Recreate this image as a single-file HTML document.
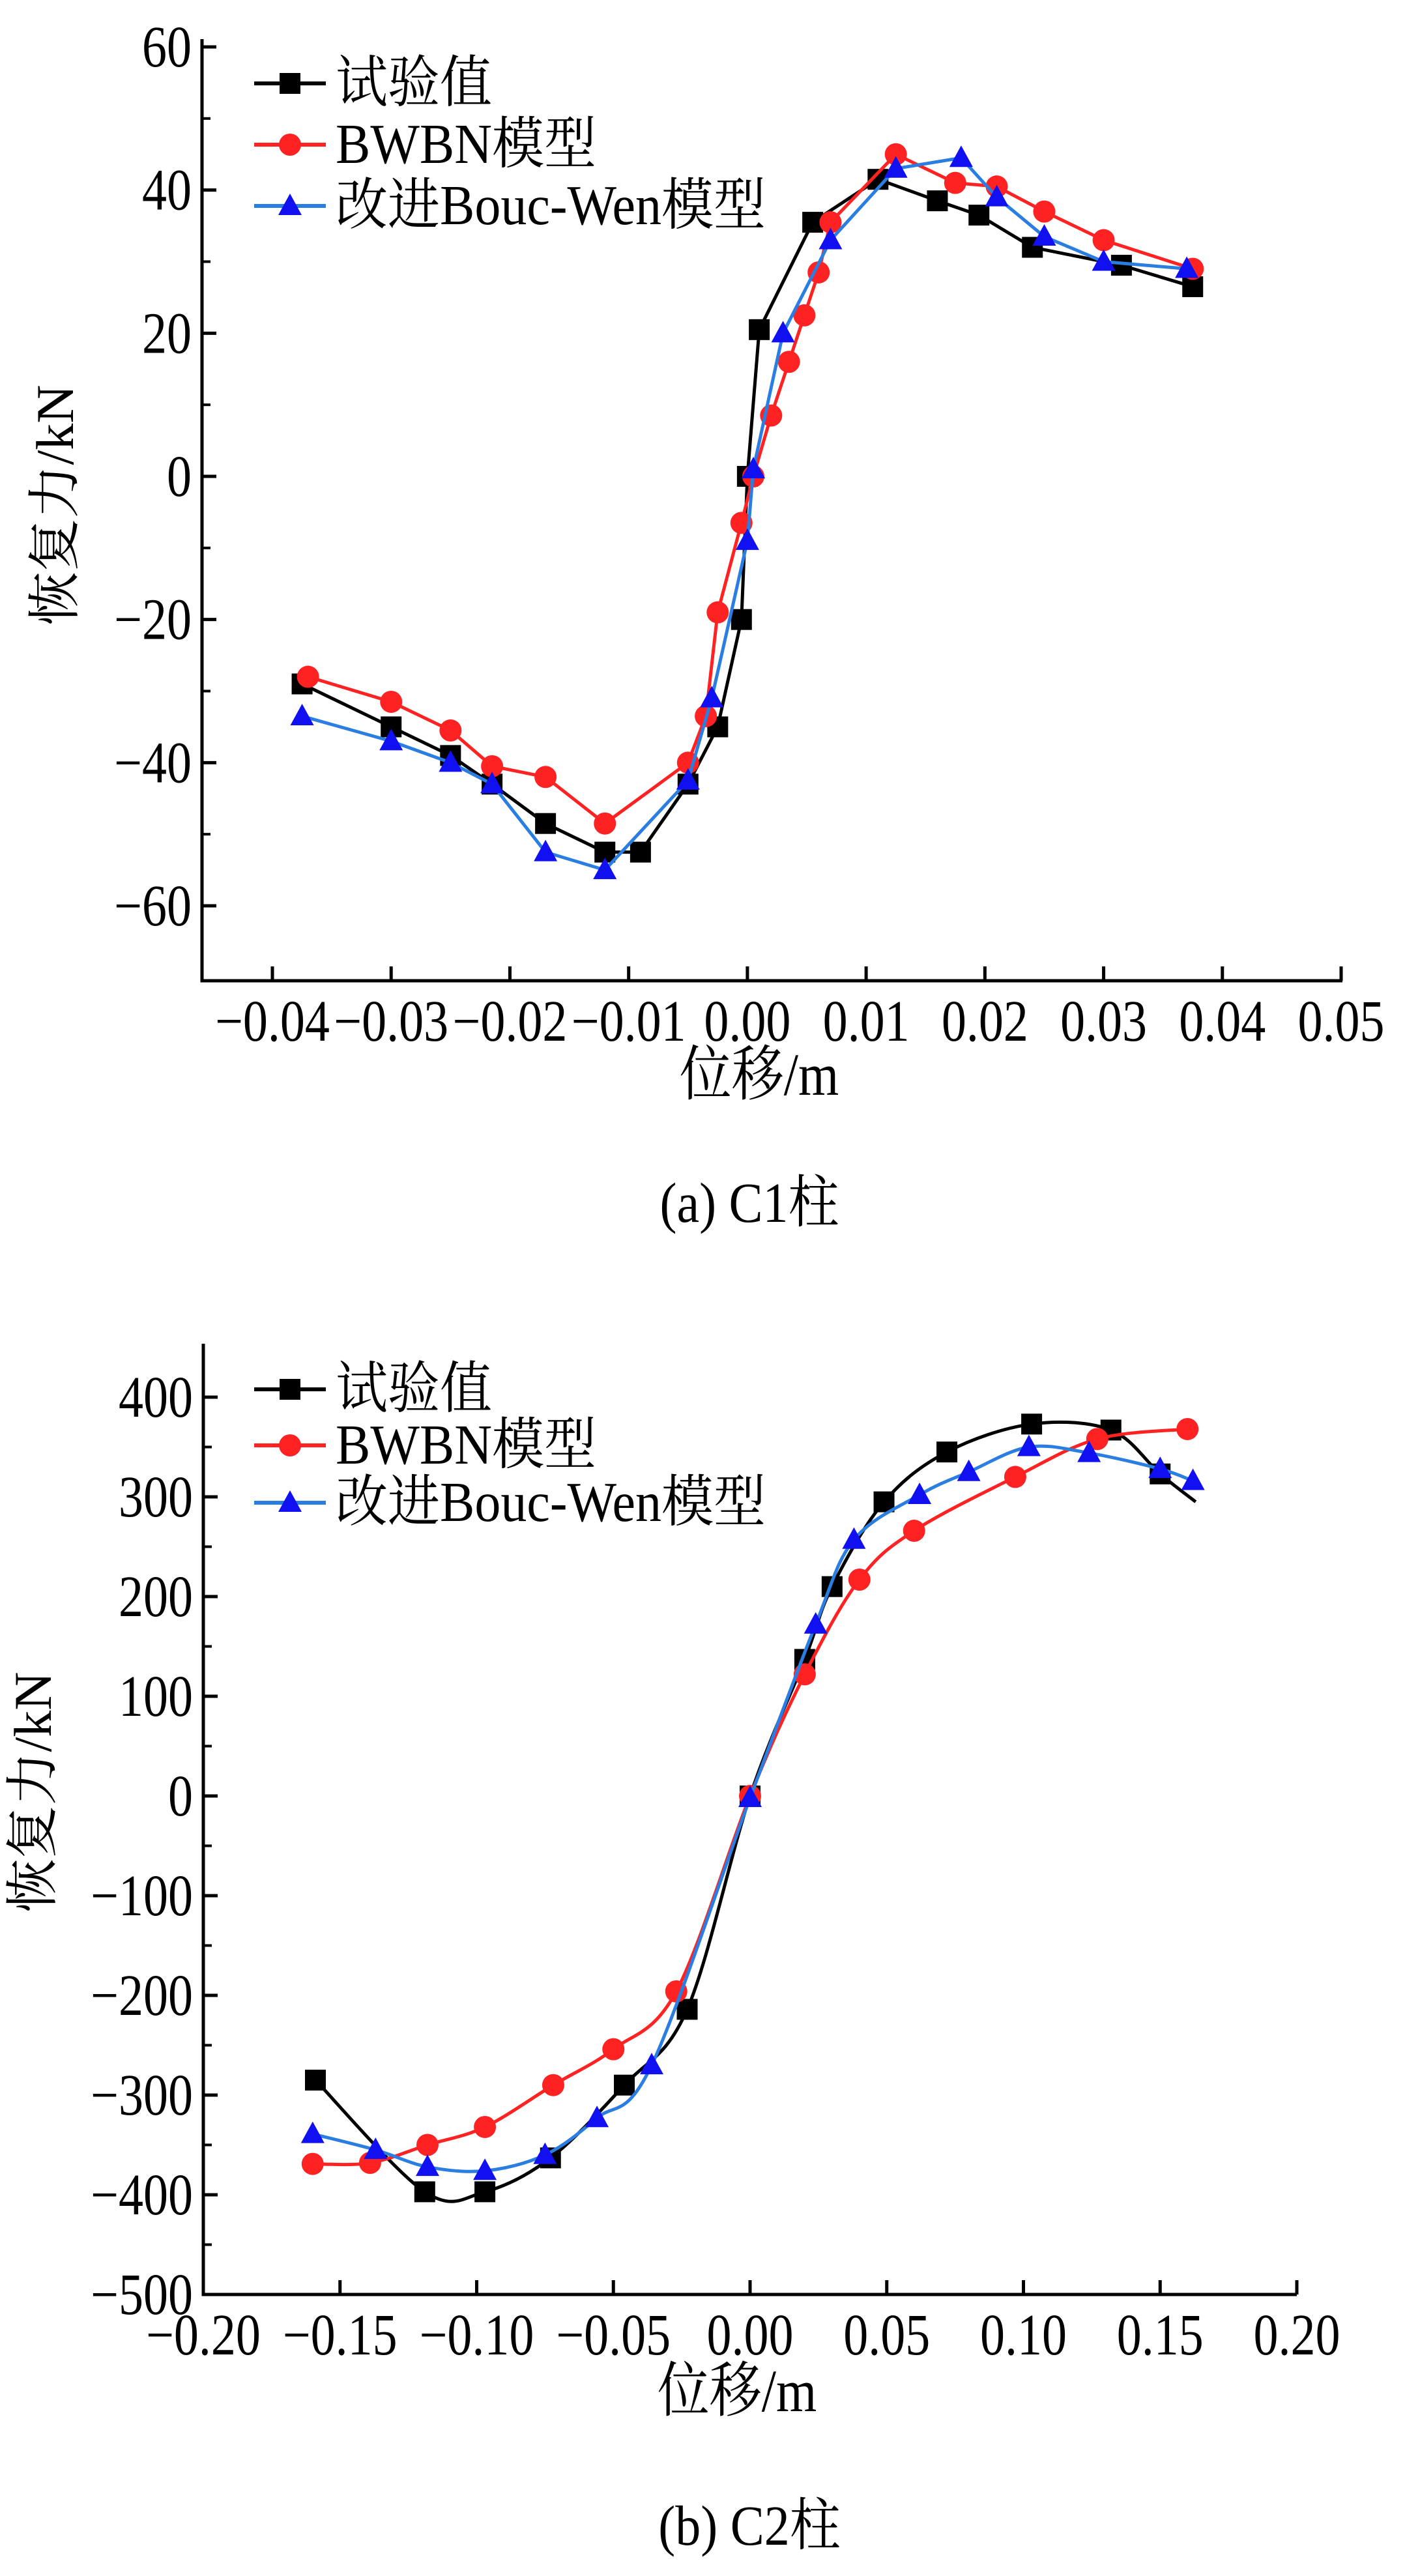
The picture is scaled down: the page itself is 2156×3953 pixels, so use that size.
<!DOCTYPE html>
<html><head><meta charset="utf-8"><style>
html,body{margin:0;padding:0;background:#fff;}
svg{display:block;}
text{font-family:"Liberation Serif","Noto Serif CJK SC",serif;fill:#000;}
</style></head><body>
<svg id="fig" width="2156" height="3953" viewBox="0 0 2156 3953" xmlns="http://www.w3.org/2000/svg"></svg>
<script>
// ---- Chart (a) C1 data ----
const c1ExpX = [-0.0375,-0.030,-0.025,-0.0215,-0.017,-0.012,-0.009,-0.005,-0.0025,-0.0005,0,0.001,0.0055,0.011,0.016,0.0195,0.024,0.0315,0.0375];
const c1ExpY = [-29,-35,-39,-43,-48.5,-52.5,-52.5,-43,-35,-20,0,20.5,35.5,41.5,38.5,36.5,32,29.5,26.5];
const c1BwX = [-0.037,-0.030,-0.025,-0.0215,-0.017,-0.012,-0.005,-0.0035,-0.0025,-0.0005,0.0005,0.002,0.0035,0.0048,0.006,0.007,0.0125,0.0175,0.021,0.025,0.030,0.0375];
const c1BwY = [-28,-31.5,-35.5,-40.5,-42,-48.5,-40,-33.5,-19,-6.5,0,8.5,16,22.5,28.5,35.5,45,41,40.5,37,33,29];
const c1ImpX = [-0.0375,-0.030,-0.025,-0.0215,-0.017,-0.012,-0.005,-0.003,0,0.0005,0.003,0.007,0.0125,0.018,0.021,0.025,0.030,0.037];
const c1ImpY = [-33.5,-37,-40,-43,-52.5,-55,-42.5,-31,-9,1,20,33,43,44.5,39,33.5,30,29];
const c1XTicks = [-0.04,-0.03,-0.02,-0.01,0,0.01,0.02,0.03,0.04,0.05];
const c1XLabels = ["\u22120.04","\u22120.03","\u22120.02","\u22120.01","0.00","0.01","0.02","0.03","0.04","0.05"];
const c1YTicks = [60,40,20,0,-20,-40,-60];
const c1YLabels = ["60","40","20","0","\u221220","\u221240","\u221260"];
// ---- Chart (b) C2 data ----
const c2ExpX = [-0.159,-0.119,-0.097,-0.073,-0.046,-0.023,0,0.020,0.030,0.049,0.072,0.103,0.132,0.150];
const c2ExpY = [-285,-397,-397,-363,-290,-214,0,137,210,295,345,373,367,323];
const c2ExpTailX = [0.163];
const c2ExpTailY = [295];
const c2BwX = [-0.160,-0.139,-0.118,-0.097,-0.072,-0.050,-0.027,0,0.020,0.040,0.060,0.097,0.127,0.160];
const c2BwY = [-369,-368,-350,-332,-290,-254,-196,0,122,217,266,320,358,368];
const c2ImpX = [-0.160,-0.137,-0.118,-0.097,-0.075,-0.056,-0.036,0,0.024,0.038,0.062,0.080,0.102,0.124,0.150,0.162];
const c2ImpY = [-339,-355,-372,-376,-360,-323,-270,-2,172,257,302,325,350,344,328,316];
const c2XTicks = [-0.20,-0.15,-0.10,-0.05,0,0.05,0.10,0.15,0.20];
const c2XLabels = ["\u22120.20","\u22120.15","\u22120.10","\u22120.05","0.00","0.05","0.10","0.15","0.20"];
const c2YTicks = [400,300,200,100,0,-100,-200,-300,-400,-500];
const c2YLabels = ["400","300","200","100","0","\u2212100","\u2212200","\u2212300","\u2212400","\u2212500"];
const legendLabels = ["试验值","BWBN模型","改进Bouc-Wen模型"];

const NS="http://www.w3.org/2000/svg";
const svg=document.getElementById('fig');
function mk(tag,attrs,parent){const e=document.createElementNS(NS,tag);for(const k in attrs)e.setAttribute(k,attrs[k]);(parent||svg).appendChild(e);return e;}

function marker(g,type,x,y,color){
  let e;
  if(type==='sq') e=mk('rect',{x:x-16,y:y-16,width:32,height:32,fill:color},g);
  else if(type==='ci') e=mk('circle',{cx:x,cy:y,r:17,fill:color},g);
  else e=mk('polygon',{points:`${x},${y-19} ${x-18},${y+14} ${x+18},${y+14}`,fill:color},g);
  return e;
}
function smoothPath(pts){
  let d=`M${pts[0][0]},${pts[0][1]}`;
  for(let i=0;i<pts.length-1;i++){
    const p0=pts[i-1]||pts[i],p1=pts[i],p2=pts[i+1],p3=pts[i+2]||p2;
    const c1=[p1[0]+(p2[0]-p0[0])/6,p1[1]+(p2[1]-p0[1])/6];
    const c2=[p2[0]-(p3[0]-p1[0])/6,p2[1]-(p3[1]-p1[1])/6];
    d+=` C${c1[0]},${c1[1]} ${c2[0]},${c2[1]} ${p2[0]},${p2[1]}`;
  }
  return d;
}
function stretchedText(parent,x,y,size,anchor,str,sy){
  const t=mk('text',{x:0,y:0,'font-size':size,'text-anchor':anchor,transform:`translate(${x},${y}) scale(1,${sy})`},parent);
  t.textContent=str;
  return t;
}

function drawChart(cfg){
  const g=mk('g',{});
  
  
  const sx=v=>cfg.xa+(v-cfg.xaV)/(cfg.xbV-cfg.xaV)*(cfg.xb-cfg.xa);
  const sy=v=>cfg.yRefPx+(cfg.yRef-v)*cfg.pxPerUnit;
  const ax=mk('path',{d:`M${cfg.x0px},${cfg.topPx} L${cfg.x0px},${cfg.botPx} L${cfg.x1px},${cfg.botPx}`,fill:'none',stroke:'#000','stroke-width':5},g);
  
  
  cfg.xTicks.forEach((t,i)=>{
    const x=sx(t);
    mk('line',{x1:x,y1:cfg.botPx,x2:x,y2:cfg.botPx-22,stroke:'#000','stroke-width':5},g);
    const tx=stretchedText(g,x,cfg.botPx+92,76,'middle',cfg.xLabels[i],1.18);
    
    
  });
  cfg.yTicks.forEach((t,i)=>{
    const y=sy(t);
    mk('line',{x1:cfg.x0px,y1:y,x2:cfg.x0px+22,y2:y,stroke:'#000','stroke-width':5},g);
    if(i<cfg.yTicks.length-1){const ym=sy(t-cfg.yStep/2);mk('line',{x1:cfg.x0px,y1:ym,x2:cfg.x0px+13,y2:ym,stroke:'#000','stroke-width':4},g);}
    const ty=stretchedText(g,cfg.x0px-16,y+30,76,'end',cfg.yLabels[i],1.18);
    
    
  });
  const xt=stretchedText(g,(cfg.x0px+cfg.x1px)/2-20,cfg.xTitleY,80,'middle','位移/m',1.15);
  
  
  const yt=mk('text',{x:0,y:0,'font-size':82,'text-anchor':'middle',transform:`translate(${cfg.yTitleX},${cfg.yTitleY}) rotate(-90)`},g);
  yt.textContent='恢复力/kN';
  
  
  const series=[
    {xs:cfg.exp[0],ys:cfg.exp[1],tx:cfg.expTail?cfg.expTail[0]:[],ty:cfg.expTail?cfg.expTail[1]:[],color:'#000',m:'sq',name:'series-test'},
    {xs:cfg.bw[0],ys:cfg.bw[1],tx:[],ty:[],color:'#f22',m:'ci',name:'series-bwbn'},
    {xs:cfg.imp[0],ys:cfg.imp[1],tx:[],ty:[],color:'#2a7de1',mc:'#1010f0',m:'tr',name:'series-improved'}
  ];
  series.forEach(s=>{
    const sg=mk('g',{},g);
    
    
    const pts=s.xs.map((v,i)=>[sx(v),sy(s.ys[i])]);
    const linePts=pts.concat(s.tx.map((v,i)=>[sx(v),sy(s.ty[i])]));
    const d=cfg.smooth?smoothPath(linePts):'M'+linePts.map(p=>p.join(',')).join(' L');
    mk('path',{d:d,fill:'none',stroke:s.color,'stroke-width':5},sg);
    pts.forEach(p=>{const mm=marker(sg,s.m,p[0],p[1],s.mc||s.color);
      
      });
  });
  const lg=mk('g',{},g);
  
  
  series.forEach((s,i)=>{
    const y=cfg.legendY[i];
    const eg=mk('g',{},lg);
    
    
    mk('line',{x1:390,y1:y,x2:500,y2:y,stroke:s.color,'stroke-width':6},eg);
    marker(eg,s.m,445,y,s.mc||s.color);
    stretchedText(eg,515,y+28,80,'start',legendLabels[i],1.08);
  });
  const cap=stretchedText(g,1150,cfg.capY,78,'middle',cfg.caption,1.12);
  
  
}

drawChart({name:'chart-c1',x0px:310,x1px:2060,xa:418,xaV:-0.04,xb:2058,xbV:0.05,
  topPx:60,botPx:1505,yRef:60,yRefPx:72,pxPerUnit:(1390-72)/120,yStep:20,
  xTicks:c1XTicks,xLabels:c1XLabels,yTicks:c1YTicks,yLabels:c1YLabels,
  exp:[c1ExpX,c1ExpY],bw:[c1BwX,c1BwY],imp:[c1ImpX,c1ImpY],smooth:false,
  legendY:[128,222,316],xTitleY:1680,yTitleX:112,yTitleY:775,capY:1875,caption:'(a) C1柱'});
drawChart({name:'chart-c2',x0px:312,x1px:1990,xa:312,xaV:-0.20,xb:1990,xbV:0.20,
  topPx:2062,botPx:3521,yRef:400,yRefPx:2144,pxPerUnit:(3521-2144)/900,yStep:100,
  xTicks:c2XTicks,xLabels:c2XLabels,yTicks:c2YTicks,yLabels:c2YLabels,
  exp:[c2ExpX,c2ExpY],expTail:[c2ExpTailX,c2ExpTailY],bw:[c2BwX,c2BwY],imp:[c2ImpX,c2ImpY],smooth:true,
  legendY:[2132,2218,2306],xTitleY:3700,yTitleX:78,yTitleY:2750,capY:3905,caption:'(b) C2柱'});
</script>
</body></html>
